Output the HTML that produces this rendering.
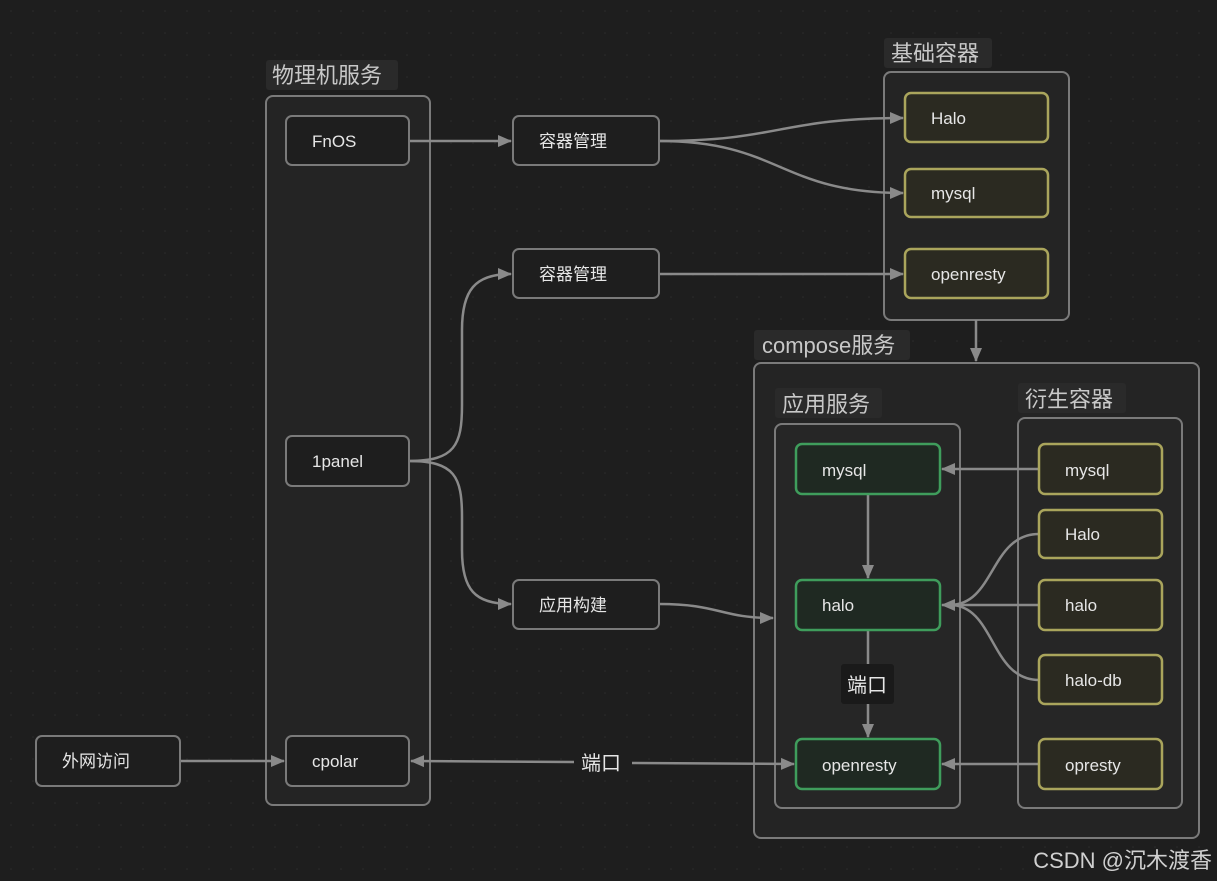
<!DOCTYPE html>
<html><head><meta charset="utf-8"><style>
html,body{margin:0;padding:0;background:#1e1e1e;}
svg{display:block;}
text{font-family:"Liberation Sans","Noto Sans CJK SC",sans-serif;}
</style></head><body>
<svg width="1217" height="881" viewBox="0 0 1217 881" xmlns="http://www.w3.org/2000/svg">
<defs>
<pattern id="dots" width="22" height="22" patternUnits="userSpaceOnUse"><circle cx="11" cy="11" r="0.8" fill="#2c2c2c"/></pattern>
<marker id="ar" markerWidth="14" markerHeight="14" refX="13" refY="7" orient="auto" markerUnits="userSpaceOnUse"><path d="M0,1 L14,7 L0,13 z" fill="#8a8a8a"/></marker>
</defs>
<rect width="1217" height="881" fill="#1e1e1e"/>
<rect width="1217" height="881" fill="url(#dots)"/>

<g fill="#242424" stroke="#7a7a7a" stroke-width="2">
<rect x="266" y="96" width="164" height="709" rx="7"/>
<rect x="884" y="72" width="185" height="248" rx="7"/>
<rect x="754" y="363" width="445" height="475" rx="7"/>
<rect x="775" y="424" width="185" height="384" rx="7" fill="#262626"/>
<rect x="1018" y="418" width="164" height="390" rx="7" fill="#262626"/>
</g>
<g fill="#2a2a2a">
<rect x="266" y="60" width="132" height="30" rx="3"/>
<rect x="884" y="38" width="108" height="30" rx="3"/>
<rect x="754" y="330" width="156" height="30" rx="3"/>
<rect x="775" y="388" width="107" height="30" rx="3"/>
<rect x="1018" y="383" width="108" height="30" rx="3"/>
</g>
<g fill="#c8c8c8" font-size="22">
<text x="272" y="83">物理机服务</text>
<text x="891" y="61">基础容器</text>
<text x="762" y="353">compose服务</text>
<text x="782" y="412">应用服务</text>
<text x="1025" y="407">衍生容器</text>
</g>

<g stroke="#8a8a8a" stroke-width="2.5" fill="none">
<path d="M409,141 L511,141" marker-end="url(#ar)"/>
<path d="M659,141 C780,141 780,118 903,118" marker-end="url(#ar)"/>
<path d="M659,141 C780,141 780,193 903,193" marker-end="url(#ar)"/>
<path d="M659,274 L903,274" marker-end="url(#ar)"/>
<path d="M409,461 C455,461 462,445 462,405 L462,330 C462,290 475,274 511,274" marker-end="url(#ar)"/>
<path d="M409,461 C455,461 462,477 462,517 L462,550 C462,590 475,604 511,604" marker-end="url(#ar)"/>
<path d="M659,604 C720,604 720,618 773,618" marker-end="url(#ar)"/>
<path d="M976,320 L976,361" marker-end="url(#ar)"/>
<path d="M180,761 L284,761" marker-end="url(#ar)"/>
<path d="M574,762 L411,761" marker-end="url(#ar)"/>
<path d="M632,763 L794,764" marker-end="url(#ar)"/>
<path d="M1039,469 L942,469" marker-end="url(#ar)"/>
<path d="M868,494 L868,578" marker-end="url(#ar)"/>
<path d="M868,630 L868,664"/>
<path d="M868,704 L868,737" marker-end="url(#ar)"/>
<path d="M1039,605 L942,605" marker-end="url(#ar)"/>
<path d="M1039,534 C990,534 995,605 950,605"/>
<path d="M1039,680 C990,680 995,605 950,605"/>
<path d="M1039,764 L942,764" marker-end="url(#ar)"/>
</g>

<g fill="#1e1e1e" stroke="#7a7a7a" stroke-width="2">
<rect x="286" y="116" width="123" height="49" rx="6"/>
<rect x="286" y="436" width="123" height="50" rx="6"/>
<rect x="286" y="736" width="123" height="50" rx="6"/>
<rect x="36" y="736" width="144" height="50" rx="6"/>
<rect x="513" y="116" width="146" height="49" rx="6"/>
<rect x="513" y="249" width="146" height="49" rx="6"/>
<rect x="513" y="580" width="146" height="49" rx="6"/>
</g>
<g fill="#2b2a21" stroke="#aaa55c" stroke-width="2.5">
<rect x="905" y="93" width="143" height="49" rx="6"/>
<rect x="905" y="169" width="143" height="48" rx="6"/>
<rect x="905" y="249" width="143" height="49" rx="6"/>
<rect x="1039" y="444" width="123" height="50" rx="6"/>
<rect x="1039" y="510" width="123" height="48" rx="6"/>
<rect x="1039" y="580" width="123" height="50" rx="6"/>
<rect x="1039" y="655" width="123" height="49" rx="6"/>
<rect x="1039" y="739" width="123" height="50" rx="6"/>
</g>
<g fill="#1f2922" stroke="#3f9d5c" stroke-width="2.5">
<rect x="796" y="444" width="144" height="50" rx="6"/>
<rect x="796" y="580" width="144" height="50" rx="6"/>
<rect x="796" y="739" width="144" height="50" rx="6"/>
</g>
<rect x="841" y="664" width="53" height="40" rx="3" fill="#1a1a1a"/>
<rect x="575" y="748" width="56" height="30" fill="#1e1e1e"/>

<g fill="#e6e6e6" font-size="17">
<text x="312" y="147">FnOS</text>
<text x="312" y="467">1panel</text>
<text x="312" y="767">cpolar</text>
<text x="62" y="767">外网访问</text>
<text x="539" y="147">容器管理</text>
<text x="539" y="280">容器管理</text>
<text x="539" y="611">应用构建</text>
<text x="931" y="124">Halo</text>
<text x="931" y="199">mysql</text>
<text x="931" y="280">openresty</text>
<text x="822" y="476">mysql</text>
<text x="822" y="611">halo</text>
<text x="822" y="771">openresty</text>
<text x="1065" y="476">mysql</text>
<text x="1065" y="540">Halo</text>
<text x="1065" y="611">halo</text>
<text x="1065" y="686">halo-db</text>
<text x="1065" y="771">opresty</text>
</g>
<g fill="#e6e6e6" font-size="20">
<text x="847" y="692">端口</text>
<text x="581" y="770">端口</text>
</g>
<text x="1212" y="868" text-anchor="end" fill="#d0d0d0" font-size="22">CSDN @沉木渡香</text>
</svg>
</body></html>
